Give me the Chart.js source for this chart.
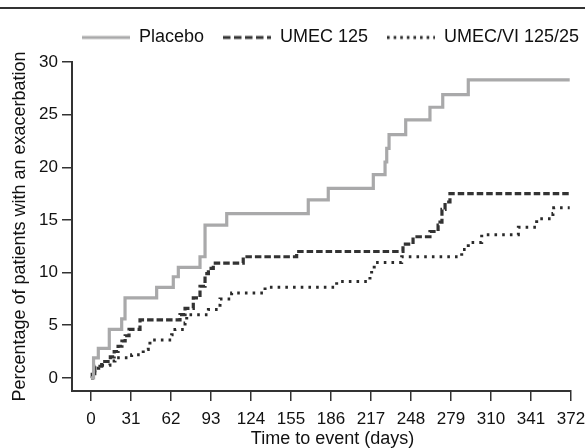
<!DOCTYPE html>
<html>
<head>
<meta charset="utf-8">
<script src="https://cdn.jsdelivr.net/npm/chart.js@4.4.1/dist/chart.umd.min.js"></script>
<style>
  body { margin: 0; background: #fff; }
  #wrap { position: relative; width: 585px; height: 448px; }
  #topline { position: absolute; left: 0; top: 7px; width: 585px; height: 2px; background: #333; }
</style>
</head>
<body>
<div id="wrap">
  <canvas id="graph" width="585" height="448"></canvas>
  <div id="topline"></div>
</div>
<script>
// Kaplan-Meier style cumulative curves
const placeboDays = [0, 2, 5.7, 14.2, 23.8, 26.4, 50.9, 63.8, 67.7, 84.5, 88.4, 105.2, 168.4, 183.9, 218.8, 227.9, 229.2, 231, 243.9, 262.7, 272.6, 292.4, 371];
const placeboPct  = [0, 1.9, 2.8, 4.6, 5.6, 7.6, 8.6, 9.6, 10.5, 11.5, 14.5, 15.6, 16.9, 18.0, 19.3, 20.5, 21.8, 23.1, 24.5, 25.7, 26.9, 28.3, 28.3];

const umecDays = [0, 1, 3, 8.3, 15, 18, 21, 24, 26.5, 29.5, 38, 69, 72.9, 79.3, 84.5, 88.4, 91, 94.8, 118, 159.4, 241.8, 249.6, 262.7, 269, 270.5, 272, 274.4, 278.2, 371];
const umecPct  = [0, 0.5, 1.1, 1.55, 2.0, 2.5, 3.0, 3.5, 4.0, 4.6, 5.5, 6.0, 6.6, 7.6, 8.7, 9.9, 10.4, 10.9, 11.5, 12.0, 12.7, 13.4, 13.9, 14.5, 14.8, 16.0, 16.7, 17.5, 17.5];

const umecviDays = [0, 1, 3, 6, 14.7, 18.6, 31.5, 40.5, 44.4, 45.7, 62.5, 65.1, 72.9, 74.2, 91, 98.7, 100, 109, 134.9, 190.4, 216.2, 217.5, 219.5, 240.8, 287.3, 292.4, 302.8, 331.2, 345.4, 358, 358.6, 371];
const umecviPct  = [0, 0.4, 0.9, 1.2, 1.6, 1.9, 2.2, 2.7, 3.1, 3.6, 4.1, 4.6, 5.2, 6.0, 6.5, 6.9, 7.5, 8.05, 8.6, 9.15, 9.8, 10.35, 10.95, 11.5, 12.2, 12.85, 13.6, 14.3, 15.1, 15.6, 16.15, 16.15];

const xTicks = [0, 31, 62, 93, 124, 155, 186, 217, 248, 279, 310, 341, 372];
const yTicks = [0, 5, 10, 15, 20, 25, 30];

const font = "'Liberation Sans', Arial, Helvetica, sans-serif";
const ink = '#111';
const axisColor = '#333';

function pts(xs, ys) {
    return xs.map((x, i) => ({ x: x, y: ys[i] }));
}

// little canvas used as the legend sample, so the dash shows in the legend too
function legendMark(color, width, dash) {
    const c = document.createElement('canvas');
    c.width = 48;
    c.height = 6;
    const x = c.getContext('2d');
    x.strokeStyle = color;
    x.lineWidth = width;
    x.setLineDash(dash);
    x.beginPath();
    x.moveTo(0, 3);
    x.lineTo(48, 3);
    x.stroke();
    return c;
}

// legend needs a bit more room below it; legend and bottom title sit right of centre
const layoutTweak = {
    id: 'layoutTweak',
    beforeLayout(chart) {
        const lg = chart.legend;
        if (lg && !lg._patched) {
            const fit = lg.fit;
            lg.fit = function () { fit.call(this); this.height += 5.5; };
            lg._patched = true;
        }
    },
    afterLayout(chart) {
        chart.legend.left += 45;
        chart.legend.right += 45;
        chart.titleBlock.left += 47;
        chart.titleBlock.right += 47;
    }
};

var g = document.getElementById("graph").getContext("2d");

var graph = new Chart(g, {
    type: 'line',
    data: {
        datasets: [{
            label: 'Placebo',
            data: pts(placeboDays, placeboPct),
            borderColor: '#a9a9aa',
            borderWidth: 3.2,
            stepped: true,
            pointRadius: 0,
            pointStyle: legendMark('#a9a9aa', 3.2, [])
        }, {
            label: 'UMEC 125',
            data: pts(umecDays, umecPct),
            borderColor: '#333',
            borderWidth: 3.2,
            borderDash: [6.5, 3],
            stepped: true,
            pointRadius: 0,
            pointStyle: legendMark('#333', 3.2, [7.5, 3.5])
        }, {
            label: 'UMEC/VI 125/25',
            data: pts(umecviDays, umecviPct),
            borderColor: '#2a2a2a',
            borderWidth: 3,
            borderDash: [2.6, 5.1],
            stepped: true,
            pointRadius: 0,
            pointStyle: legendMark('#2a2a2a', 3, [2.6, 4])
        }]
    },
    options: {
        responsive: false,
        animation: false,
        devicePixelRatio: 1,
        layout: { padding: { top: 9.5, left: 0, right: 14, bottom: 0 } },
        plugins: {
            legend: {
                position: 'top',
                labels: {
                    usePointStyle: true,
                    pointStyleWidth: 48,
                    padding: 19,
                    color: ink,
                    font: { family: font, size: 18 }
                }
            },
            title: {
                display: true,
                position: 'bottom',
                text: 'Time to event (days)',
                color: ink,
                font: { family: font, size: 18, weight: 'normal' },
                padding: { top: 0, bottom: -2 }
            },
            tooltip: { enabled: false }
        },
        scales: {
            x: {
                type: 'linear',
                min: -14.7,
                max: 372,
                afterBuildTicks: s => { s.ticks = xTicks.map(v => ({ value: v })); },
                afterFit: s => { s.height = 37.4; s.paddingLeft = 0; s.paddingRight = 0; },
                ticks: { color: ink, font: { family: font, size: 17 }, padding: 8, maxRotation: 0, autoSkip: false },
                grid: { display: true, drawOnChartArea: false, drawTicks: true, tickLength: 10, color: axisColor, lineWidth: 1.5 },
                border: { display: true, color: axisColor, width: 2 }
            },
            y: {
                min: -1.25,
                max: 30,
                afterBuildTicks: s => { s.ticks = yTicks.map(v => ({ value: v })); },
                afterFit: s => { s.width = 72; },
                ticks: { color: ink, font: { family: font, size: 17 }, padding: 4 },
                grid: { display: true, drawOnChartArea: false, drawTicks: true, tickLength: 10, color: axisColor, lineWidth: 1.5 },
                border: { display: true, color: axisColor, width: 2 },
                title: { display: true, text: 'Percentage of patients with an exacerbation', color: ink, font: { family: font, size: 18 }, padding: { top: 9, bottom: 0 } }
            }
        }
    },
    plugins: [layoutTweak]
});
</script>
</body>
</html>
